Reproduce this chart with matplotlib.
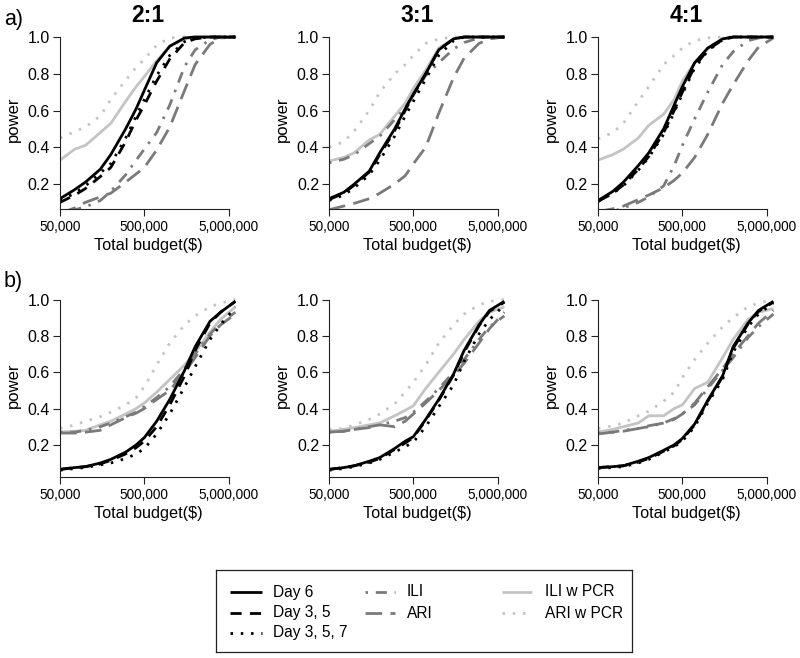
import matplotlib
matplotlib.use('Agg')
import matplotlib.pyplot as plt
from matplotlib.lines import Line2D

plt.rcParams['font.family'] = ['Liberation Sans', 'DejaVu Sans']

# total budget ($) at which power was read
budget = [5e4, 7.5e4, 1e5, 1.5e5, 2e5, 3e5, 4e5, 5e5, 7e5, 1e6, 1.5e6, 2e6, 3e6, 4e6, 6e6]

ratios = ['2:1', '3:1', '4:1']
series = ['Day 6', 'Day 3, 5', 'Day 3, 5, 7', 'ILI', 'ARI', 'ILI w PCR', 'ARI w PCR']

# row a), 2:1
day6_a21 = [0.12, 0.17, 0.21, 0.28, 0.36, 0.50, 0.61, 0.71, 0.86, 0.95, 0.995, 1, 1, 1, 1]
day35_a21 = [0.10, 0.14, 0.175, 0.24, 0.29, 0.43, 0.55, 0.63, 0.76, 0.88, 0.97, 0.99, 1, 1, 1]
day357_a21 = [0.11, 0.15, 0.19, 0.26, 0.31, 0.45, 0.57, 0.66, 0.79, 0.90, 0.975, 0.995, 1, 1, 1]
ili_a21 = [0.05, 0.06, 0.075, 0.11, 0.16, 0.25, 0.33, 0.39, 0.48, 0.63, 0.84, 0.93, 0.985, 1, 1]
ari_a21 = [0.04, 0.07, 0.10, 0.13, 0.15, 0.21, 0.255, 0.29, 0.385, 0.51, 0.71, 0.85, 0.96, 0.995, 1]
ilipcr_a21 = [0.33, 0.39, 0.41, 0.48, 0.53, 0.65, 0.73, 0.785, 0.87, 0.95, 0.99, 1, 1, 1, 1]
aripcr_a21 = [0.45, 0.485, 0.51, 0.57, 0.66, 0.765, 0.835, 0.88, 0.955, 0.995, 1, 1, 1, 1, 1]

# row a), 3:1
day6_a31 = [0.12, 0.155, 0.20, 0.27, 0.37, 0.50, 0.61, 0.69, 0.80, 0.93, 0.99, 1, 1, 1, 1]
day35_a31 = [0.115, 0.15, 0.195, 0.265, 0.36, 0.49, 0.60, 0.685, 0.80, 0.93, 0.99, 1, 1, 1, 1]
day357_a31 = [0.11, 0.14, 0.18, 0.25, 0.33, 0.46, 0.57, 0.65, 0.77, 0.90, 0.98, 1, 1, 1, 1]
ili_a31 = [0.315, 0.335, 0.36, 0.42, 0.46, 0.55, 0.615, 0.68, 0.79, 0.86, 0.935, 0.97, 0.995, 1, 1]
ari_a31 = [0.06, 0.08, 0.095, 0.12, 0.15, 0.20, 0.245, 0.31, 0.40, 0.585, 0.78, 0.885, 0.965, 0.99, 1]
ilipcr_a31 = [0.325, 0.345, 0.37, 0.44, 0.47, 0.57, 0.64, 0.72, 0.82, 0.94, 0.99, 1, 1, 1, 1]
aripcr_a31 = [0.40, 0.43, 0.49, 0.60, 0.70, 0.80, 0.85, 0.90, 0.965, 0.99, 1, 1, 1, 1, 1]

# row a), 4:1
day6_a41 = [0.11, 0.16, 0.21, 0.30, 0.37, 0.50, 0.63, 0.73, 0.86, 0.94, 0.99, 1, 1, 1, 1]
day35_a41 = [0.105, 0.15, 0.195, 0.28, 0.35, 0.48, 0.60, 0.70, 0.84, 0.93, 0.985, 1, 1, 1, 1]
day357_a41 = [0.105, 0.15, 0.19, 0.275, 0.345, 0.47, 0.59, 0.69, 0.83, 0.925, 0.985, 1, 1, 1, 1]
ili_a41 = [0.04, 0.05, 0.07, 0.10, 0.13, 0.19, 0.30, 0.41, 0.555, 0.70, 0.85, 0.92, 0.98, 0.995, 1]
ari_a41 = [0.05, 0.065, 0.08, 0.115, 0.14, 0.18, 0.22, 0.26, 0.345, 0.47, 0.64, 0.74, 0.87, 0.945, 0.995]
ilipcr_a41 = [0.33, 0.36, 0.39, 0.45, 0.52, 0.58, 0.66, 0.76, 0.86, 0.935, 0.99, 1, 1, 1, 1]
aripcr_a41 = [0.445, 0.48, 0.53, 0.65, 0.73, 0.85, 0.90, 0.94, 0.98, 0.995, 1, 1, 1, 1, 1]

# row b), 2:1
day6_b21 = [0.065, 0.075, 0.08, 0.10, 0.12, 0.16, 0.20, 0.24, 0.33, 0.45, 0.61, 0.74, 0.88, 0.93, 0.99]
day35_b21 = [0.065, 0.075, 0.08, 0.095, 0.115, 0.15, 0.185, 0.22, 0.30, 0.42, 0.58, 0.72, 0.87, 0.93, 0.99]
day357_b21 = [0.06, 0.07, 0.075, 0.09, 0.10, 0.125, 0.15, 0.18, 0.26, 0.37, 0.52, 0.63, 0.78, 0.86, 0.96]
ili_b21 = [0.27, 0.27, 0.28, 0.30, 0.32, 0.355, 0.38, 0.41, 0.46, 0.52, 0.62, 0.70, 0.81, 0.87, 0.93]
ari_b21 = [0.265, 0.265, 0.27, 0.28, 0.31, 0.35, 0.375, 0.40, 0.45, 0.50, 0.60, 0.68, 0.80, 0.86, 0.92]
ilipcr_b21 = [0.27, 0.275, 0.28, 0.31, 0.33, 0.37, 0.40, 0.43, 0.49, 0.56, 0.64, 0.71, 0.82, 0.89, 0.96]
aripcr_b21 = [0.29, 0.31, 0.33, 0.355, 0.38, 0.42, 0.46, 0.52, 0.64, 0.76, 0.86, 0.91, 0.96, 0.98, 1]

# row b), 3:1
day6_b31 = [0.065, 0.075, 0.085, 0.11, 0.13, 0.18, 0.22, 0.245, 0.34, 0.45, 0.59, 0.72, 0.86, 0.94, 0.99]
day35_b31 = [0.065, 0.075, 0.085, 0.105, 0.125, 0.175, 0.21, 0.24, 0.335, 0.445, 0.585, 0.71, 0.855, 0.935, 0.985]
day357_b31 = [0.06, 0.07, 0.08, 0.10, 0.12, 0.16, 0.19, 0.215, 0.30, 0.41, 0.53, 0.66, 0.81, 0.89, 0.97]
ili_b31 = [0.27, 0.275, 0.285, 0.30, 0.31, 0.33, 0.35, 0.38, 0.44, 0.51, 0.60, 0.67, 0.78, 0.85, 0.91]
ari_b31 = [0.27, 0.275, 0.285, 0.295, 0.31, 0.30, 0.33, 0.37, 0.43, 0.50, 0.58, 0.65, 0.76, 0.84, 0.93]
ilipcr_b31 = [0.275, 0.285, 0.295, 0.31, 0.32, 0.36, 0.39, 0.415, 0.51, 0.60, 0.70, 0.78, 0.88, 0.93, 0.96]
aripcr_b31 = [0.285, 0.29, 0.31, 0.34, 0.37, 0.425, 0.49, 0.545, 0.64, 0.76, 0.86, 0.92, 0.97, 0.99, 1]

# row b), 4:1
day6_b41 = [0.075, 0.08, 0.085, 0.11, 0.13, 0.17, 0.20, 0.235, 0.315, 0.445, 0.58, 0.74, 0.87, 0.94, 0.99]
day35_b41 = [0.075, 0.08, 0.085, 0.105, 0.125, 0.165, 0.195, 0.23, 0.31, 0.44, 0.575, 0.73, 0.865, 0.935, 0.985]
day357_b41 = [0.07, 0.075, 0.08, 0.10, 0.12, 0.16, 0.19, 0.22, 0.30, 0.43, 0.56, 0.71, 0.85, 0.92, 0.98]
ili_b41 = [0.265, 0.27, 0.28, 0.29, 0.30, 0.32, 0.345, 0.37, 0.42, 0.51, 0.61, 0.68, 0.79, 0.85, 0.92]
ari_b41 = [0.26, 0.27, 0.275, 0.29, 0.305, 0.32, 0.34, 0.37, 0.43, 0.52, 0.62, 0.70, 0.80, 0.87, 0.94]
ilipcr_b41 = [0.27, 0.285, 0.30, 0.32, 0.36, 0.36, 0.40, 0.42, 0.51, 0.545, 0.68, 0.78, 0.89, 0.93, 0.95]
aripcr_b41 = [0.29, 0.305, 0.32, 0.36, 0.385, 0.44, 0.49, 0.57, 0.67, 0.76, 0.85, 0.90, 0.96, 0.98, 1]

rows = {
    'a': [
        [day6_a21, day35_a21, day357_a21, ili_a21, ari_a21, ilipcr_a21, aripcr_a21],
        [day6_a31, day35_a31, day357_a31, ili_a31, ari_a31, ilipcr_a31, aripcr_a31],
        [day6_a41, day35_a41, day357_a41, ili_a41, ari_a41, ilipcr_a41, aripcr_a41],
    ],
    'b': [
        [day6_b21, day35_b21, day357_b21, ili_b21, ari_b21, ilipcr_b21, aripcr_b21],
        [day6_b31, day35_b31, day357_b31, ili_b31, ari_b31, ilipcr_b31, aripcr_b31],
        [day6_b41, day35_b41, day357_b41, ili_b41, ari_b41, ilipcr_b41, aripcr_b41],
    ],
}

dark = '#7a7a7a'
light = '#c4c4c4'
styles = {
    'Day 6': dict(color='black', ls='-'),
    'Day 3, 5': dict(color='black', ls=(0, (4, 3))),
    'Day 3, 5, 7': dict(color='black', ls=(0, (0.9, 2.8))),
    'ILI': dict(color=dark, ls=(0, (0.9, 2.8, 4, 2.8))),
    'ARI': dict(color=dark, ls=(0, (6, 3))),
    'ILI w PCR': dict(color=light, ls='-'),
    'ARI w PCR': dict(color=light, ls=(0, (0.9, 2.8))),
}
draw_order = ['ARI w PCR', 'ILI w PCR', 'ARI', 'ILI', 'Day 3, 5, 7', 'Day 3, 5', 'Day 6']
LW = 2.0

W, H = 800, 658
fig = plt.figure(figsize=(W / 100, H / 100), dpi=100)


def px_axes(left, top, width, height):
    return fig.add_axes([left / W, 1 - (top + height) / H, width / W, height / H])


col_left = [60, 329, 598]
col_width = 175.7
row_geom = {'a': (30.4, 178.6, (0.064, 1.036)), 'b': (292.6, 184.6, (0.022, 1.038))}

for row, panels in rows.items():
    top, height, ylim = row_geom[row]
    for j, values in enumerate(panels):
        ax = px_axes(col_left[j], top, col_width, height)
        for name in draw_order:
            y = values[series.index(name)]
            st = styles[name]
            ax.plot(budget, y, color=st['color'], linestyle=st['ls'], lw=LW,
                    solid_capstyle='butt', dash_capstyle='butt')
        ax.set_xscale('log')
        ax.set_xlim(5e4, 6.05e6)
        ax.set_ylim(*ylim)
        ax.set_xticks([5e4, 5e5, 5e6])
        ax.set_xticklabels(['50,000', '500,000', '5,000,000'])
        ax.xaxis.set_minor_locator(matplotlib.ticker.NullLocator())
        ax.set_yticks([0.2, 0.4, 0.6, 0.8, 1.0])
        ax.set_yticklabels(['0.2', '0.4', '0.6', '0.8', '1.0'])
        for s in ['top', 'right']:
            ax.spines[s].set_visible(False)
        ax.spines['left'].set_bounds(ylim[0], 1.0)
        ax.spines['bottom'].set_bounds(5e4, 5e6)
        for s in ['left', 'bottom']:
            ax.spines[s].set_linewidth(0.8)
            ax.spines[s].set_color('#222222')
        ax.tick_params(axis='both', direction='out', length=4.8, width=0.8, color='#222222')
        ax.tick_params(axis='y', labelsize=11.5, pad=2.4)
        ax.tick_params(axis='x', labelsize=9.8, pad=3)
        ax.set_xlabel('Total budget($)', fontsize=11.7, labelpad=3)
        ax.set_ylabel('power', fontsize=12, labelpad=5)
        ax.patch.set_alpha(0)
        if row == 'a':
            ax.set_title(ratios[j], fontsize=16.5, fontweight='bold', pad=0,
                         y=1 + (top - 16) / height, va='center')

fig.text(4 / W, 1 - 20 / H, 'a)', fontsize=15.5, va='center', ha='left')
fig.text(4 / W, 1 - 282 / H, 'b)', fontsize=15.5, va='center', ha='left')

# legend box drawn by hand (three columns of unequal spacing)
lax = px_axes(216, 570, 416, 82)
lax.set_xlim(0, 416)
lax.set_ylim(82, 0)
lax.set_xticks([])
lax.set_yticks([])
for s in lax.spines.values():
    s.set_linewidth(0.9)
    s.set_color('#222222')
legend_cols = [(['Day 6', 'Day 3, 5', 'Day 3, 5, 7'], 14, 46, 57),
               (['ILI', 'ARI'], 149, 179, 191),
               (['ILI w PCR', 'ARI w PCR'], 286, 316, 329)]
row_y = [22, 43, 62.5]
for names, x0, x1, tx in legend_cols:
    for k, name in enumerate(names):
        st = styles[name]
        lax.add_line(Line2D([x0, x1], [row_y[k], row_y[k]], color=st['color'],
                            linestyle=st['ls'], lw=LW, dash_capstyle='butt',
                            solid_capstyle='butt'))
        lax.text(tx, row_y[k], name, fontsize=11.2, va='center', ha='left')

fig.savefig('out.png', dpi=100)
